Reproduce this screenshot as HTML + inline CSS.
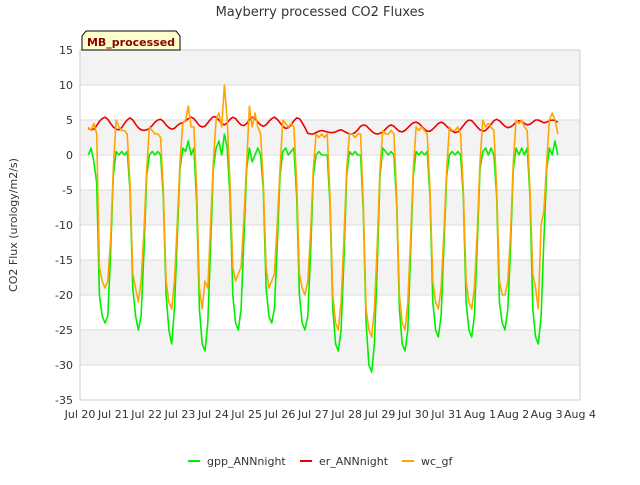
<!DOCTYPE html>
<html><head><meta charset="utf-8"><style>
body{margin:0;background:#fff;font-family:"Liberation Sans","DejaVu Sans",sans-serif}
svg text{font-family:"DejaVu Sans","Liberation Sans",sans-serif}
</style></head><body>
<svg id="c" width="640" height="480" viewBox="0 0 640 480" xmlns="http://www.w3.org/2000/svg">
<text x="320" y="16" text-anchor="middle" font-size="13" fill="#333">Mayberry processed CO2 Fluxes</text>
<g id="bands"></g><g id="grid"></g>
<rect x="80" y="50" width="500" height="350" fill="none" stroke="#ccc"/>
<g id="ticks"></g>
<text transform="translate(17,225) rotate(-90)" text-anchor="middle" font-size="11" fill="#333">CO2 Flux (urology/m2/s)</text>
<g id="series"></g>
<g>
<path d="M82,50 L82,36 L86,31 L176,31 L180,36 L180,50 Z" fill="#ffffcc" stroke="#000"/>
<text x="131" y="46" text-anchor="middle" font-size="11" font-weight="bold" fill="#8b0000">MB_processed</text>
</g>
<g id="legend"></g>
</svg>
<script>
const yTicks=[15,10,5,0,-5,-10,-15,-20,-25,-30,-35];
const xLabels=["Jul 20","Jul 21","Jul 22","Jul 23","Jul 24","Jul 25","Jul 26","Jul 27","Jul 28","Jul 29","Jul 30","Jul 31","Aug 1","Aug 2","Aug 3","Aug 4"];
const startK=3; // first sample at Jul 20 + 3/12 day, 2-hour steps
const gpp=[0,1,-1,-4,-20,-23,-24,-23,-14,
-3,0.5,0,0.5,0,0.5,-5,-19,-23,-25,-23,-14,
-3,0,0.5,0,0.5,0,-6,-20,-25,-27,-22,-12,
-2,1,0.5,2,0,1,-7,-22,-27,-28,-24,-13,
-2,1,2,0,3,1,-6,-20,-24,-25,-22,-12,
-2,1,-1,0,1,0,-5,-19,-23,-24,-22,-13,
-3,0.5,1,0,0.5,1,-6,-20,-24,-25,-23,-14,
-3,0,0.5,0,0,0,-7,-22,-27,-28,-25,-15,
-3,0.5,0,0.5,0,0,-8,-24,-30,-31,-27,-16,
-3,1,0.5,0,0.5,0,-7,-22,-27,-28,-25,-14,
-3,0.5,0,0.5,0,0.5,-6,-21,-25,-26,-23,-13,
-3,0,0.5,0,0.5,0,-6,-21,-25,-26,-23,-13,
-2,0.5,1,0,1,0,-6,-21,-24,-25,-22,-13,
-2,1,0,1,0,1,-6,-22,-26,-27,-23,-12,
-2,1,0,2,0];
const er=[3.8,3.6,3.7,4.2,4.8,5.2,5.4,5.1,4.5,
4.0,3.7,3.6,3.9,4.5,5.0,5.3,5.0,4.4,3.9,3.6,3.5,
3.6,3.8,4.2,4.7,5.0,5.1,4.8,4.3,3.9,3.7,3.8,4.2,
4.5,4.6,4.9,5.2,5.4,5.2,4.7,4.2,4.0,4.1,4.6,5.1,
5.5,5.4,5.0,4.5,4.3,4.6,5.1,5.4,5.2,4.7,4.3,4.2,
4.5,5.0,5.4,5.2,4.7,4.3,4.1,4.3,4.8,5.2,5.4,5.1,
4.6,4.1,3.8,3.9,4.3,4.9,5.3,5.2,4.6,3.9,3.1,3.0,
3.0,3.2,3.4,3.5,3.4,3.3,3.2,3.2,3.3,3.5,3.6,3.4,
3.2,3.0,3.0,3.2,3.6,4.1,4.3,4.2,3.8,3.4,3.1,3.0,
3.1,3.3,3.7,4.1,4.3,4.1,3.7,3.4,3.3,3.5,3.9,4.3,
4.6,4.7,4.5,4.1,3.7,3.4,3.4,3.7,4.1,4.5,4.7,4.5,
4.1,3.7,3.4,3.2,3.3,3.7,4.2,4.7,5.0,4.9,4.5,4.0,
3.6,3.4,3.5,3.9,4.4,4.9,5.1,4.9,4.5,4.1,3.9,4.0,
4.3,4.7,4.9,4.8,4.5,4.3,4.4,4.7,5.0,5.0,4.8,4.6,
4.7,4.9,5.0,4.9,4.7];
const wc=[4,3.5,4.5,3,-16,-18,-19,-18,-12,
-2,5,4,3.5,3.5,3,-4,-17,-19,-21,-18,-11,
-2,4,3.5,3,3,2.5,-5,-18,-21,-22,-18,-10,
-1,4.5,5,7,4,4,-5,-19,-22,-18,-19,-10,
-1,5,6,4,10,5,-4,-16,-18,-17,-16,-9,
-1,7,4,6,4,3,-4,-16,-19,-18,-17,-10,
-2,5,4.5,4,4.5,4,-4,-17,-19,-20,-18,-11,
-2,3,2.5,3,2.5,3,-6,-20,-24,-25,-21,-12,
-2,3,3,2.5,3,3,-7,-22,-25,-26,-22,-13,
-2,3.5,3,3,3.5,3,-6,-20,-24,-25,-21,-12,
-2,4,3.5,4,3.5,3,-5,-18,-21,-22,-19,-11,
-2,4,3.5,3.5,4,3,-5,-18,-21,-22,-19,-11,
-1,5,4,4.5,4,3.5,-5,-18,-20,-20,-18,-11,
-1,5,4.5,5,4,3.5,-5,-17,-19,-22,-10,-8,
-1,5,6,5,3];
const NS="http://www.w3.org/2000/svg";
const X0=80,X1=580,Y0=50,Y1=400;
function xS(day){return X0+day*(X1-X0)/15;}
function yS(v){return Y0+(15-v)*(Y1-Y0)/50;}
function mk(tag,at,parent){const e=document.createElementNS(NS,tag);for(const k in at)e.setAttribute(k,at[k]);parent.appendChild(e);return e;}
const bands=document.getElementById('bands'),grid=document.getElementById('grid'),ticks=document.getElementById('ticks');
for(let i=0;i<yTicks.length-1;i+=2){
 const r=mk('rect',{x:X0,y:yS(yTicks[i]),width:X1-X0,height:yS(yTicks[i+1])-yS(yTicks[i]),fill:'#f3f3f3'},bands);
 
 
}
yTicks.forEach(v=>{
 const l=mk('line',{x1:X0,x2:X1,y1:yS(v),y2:yS(v),stroke:'#ddd'},grid);
 
 
 const t=mk('text',{x:73,y:yS(v)+4,'text-anchor':'end','font-size':'11',fill:'#333'},ticks);
 t.textContent=v;
 
 
});
xLabels.forEach((s,i)=>{
 const t=mk('text',{x:xS(i),y:418,'text-anchor':'middle','font-size':'11',fill:'#333'},ticks);
 t.textContent=s;
 
 
});
const ser=document.getElementById('series');
function draw(arr,color,name){
 const pts=arr.map((v,i)=>xS((startK+i)/12).toFixed(1)+','+yS(v).toFixed(1)).join(' ');
 const p=mk('polyline',{points:pts,fill:'none',stroke:color,'stroke-width':'1.6','stroke-linejoin':'round'},ser);
 
 
}
draw(gpp,'#00ee00','gpp-annnight-line');
draw(er,'#ee0000','er-annnight-line');
draw(wc,'#ffa500','wc-gf-line');
const leg=document.getElementById('legend');
[['gpp_ANNnight','#00ee00',188],['er_ANNnight','#ee0000',300],['wc_gf','#ffa500',402]].forEach(([n,c,x])=>{
 const g=mk('g',{},leg);
 
 
 mk('line',{x1:x,x2:x+12,y1:461,y2:461,stroke:c,'stroke-width':'2'},g);
 const t=mk('text',{x:x+19,y:465,'font-size':'11',fill:'#333'},g);
 t.textContent=n;
});
</script>
</body></html>
